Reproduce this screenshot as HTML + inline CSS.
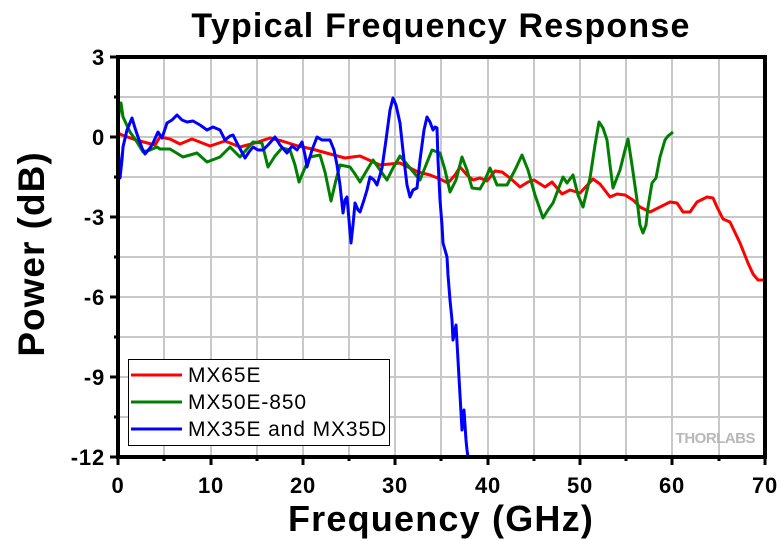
<!DOCTYPE html>
<html><head><meta charset="utf-8"><style>
html,body{margin:0;padding:0;background:#fff;}
svg{display:block;font-family:"Liberation Sans",Arial,sans-serif;}
</style></head><body>
<svg width="780" height="541" viewBox="0 0 780 541" xmlns="http://www.w3.org/2000/svg">
<rect width="780" height="541" fill="#fff"/>
<text x="441" y="37" text-anchor="middle" font-size="34" font-weight="bold" letter-spacing="1.2">Typical Frequency Response</text>
<g stroke="#c8c8c8" stroke-width="2">
<line x1="164" y1="57" x2="164" y2="457"/><line x1="211" y1="57" x2="211" y2="457"/><line x1="257" y1="57" x2="257" y2="457"/><line x1="303" y1="57" x2="303" y2="457"/><line x1="349" y1="57" x2="349" y2="457"/><line x1="395" y1="57" x2="395" y2="457"/><line x1="441" y1="57" x2="441" y2="457"/><line x1="488" y1="57" x2="488" y2="457"/><line x1="534" y1="57" x2="534" y2="457"/><line x1="580" y1="57" x2="580" y2="457"/><line x1="626" y1="57" x2="626" y2="457"/><line x1="672" y1="57" x2="672" y2="457"/><line x1="719" y1="57" x2="719" y2="457"/>
<line x1="118" y1="97" x2="765" y2="97"/><line x1="118" y1="137" x2="765" y2="137"/><line x1="118" y1="177" x2="765" y2="177"/><line x1="118" y1="217" x2="765" y2="217"/><line x1="118" y1="257" x2="765" y2="257"/><line x1="118" y1="297" x2="765" y2="297"/><line x1="118" y1="337" x2="765" y2="337"/><line x1="118" y1="377" x2="765" y2="377"/><line x1="118" y1="417" x2="765" y2="417"/>
</g>
<g fill="none" stroke-width="3" stroke-linejoin="round">
<polyline stroke="#ff0000" points="118,133 122,135 136,140 155,145 160,137 170,139 180,144 192,139 210,146 225,141 240,147 255,143 270,138 282,141 298,146 312,149 330,154 345,158 360,156 380,165 400,163 418,172 430,175 440,179 448,183 455,175 460,167 467,175 473,180 480,178 487,181 495,171 502,172 510,178 520,187 528,182 534,180 545,187 552,182 562,194 570,190 580,193 593,179 600,184 610,197 617,194 625,195 633,200 640,207 650,212 658,208 670,202 677,203 683,212 690,212 697,202 707,197 713,198 717,207 723,219 730,222 740,243 748,263 753,274 758,280 765,280"/>
<polyline stroke="#007f00" points="118,123 120,104 121,103 123,117 130,132 137,142 143,152 150,150 157,147 160,149 170,149 183,157 197,153 207,162 220,157 230,147 240,157 253,142 262,143 268,167 275,156 282,148 290,150 295,165 299,182 304,170 310,157 320,155 325,172 331,201 336,180 340,165 350,167 355,174 360,182 367,170 373,160 380,170 387,180 393,168 400,156 410,168 420,180 426,165 432,150 440,153 445,170 450,192 456,180 462,157 467,170 472,188 480,189 485,180 490,168 497,185 507,185 515,170 522,155 528,170 535,195 543,218 548,210 553,203 558,190 563,177 567,183 573,175 578,195 583,207 590,178 595,145 599,122 603,128 607,140 610,165 613,188 620,170 625,150 628,139 632,165 637,200 640,225 643,233 646,225 648,207 652,183 656,178 660,157 665,140 668,136 673,132"/>
<polyline stroke="#0000ff" points="118,143 119,160 120,178 122,160 123,147 127,130 132,118 135,128 138,137 142,148 145,154 150,148 153,143 158,132 162,138 167,123 172,120 177,115 182,120 187,122 193,121 200,125 207,130 213,127 220,130 225,140 230,136 233,135 238,145 245,158 249,152 253,147 258,150 263,150 268,145 275,137 280,145 287,153 292,146 297,150 302,142 305,155 307,167 312,150 317,137 322,140 330,140 334,150 337,165 340,185 343,213 345,200 347,197 349,220 351,243 353,225 355,203 358,210 360,212 364,200 367,190 370,177 374,180 377,185 380,175 382,168 386,140 390,110 393,98 396,105 400,123 404,160 407,185 410,197 413,190 417,188 420,160 424,130 427,117 430,122 433,130 435,127 437,128 438,160 440,200 442,225 443,243 445,250 447,257 448,275 450,300 452,320 453,340 455,330 456,325 458,360 460,395 462,430 463,415 464,410 466,440 467,450 468,457"/>
</g>
<g stroke="#000" stroke-width="4" fill="none">
<line x1="118" y1="57" x2="767" y2="57"/><line x1="765" y1="55" x2="765" y2="459"/>
<line x1="118" y1="55" x2="118" y2="459"/><line x1="116" y1="457" x2="767" y2="457"/>
</g>
<g stroke="#000" stroke-width="3">
<line x1="110" y1="57" x2="118" y2="57"/><line x1="110" y1="137" x2="118" y2="137"/><line x1="110" y1="217" x2="118" y2="217"/><line x1="110" y1="297" x2="118" y2="297"/><line x1="110" y1="377" x2="118" y2="377"/><line x1="110" y1="457" x2="118" y2="457"/>
<line x1="114" y1="97" x2="118" y2="97"/><line x1="114" y1="177" x2="118" y2="177"/><line x1="114" y1="257" x2="118" y2="257"/><line x1="114" y1="337" x2="118" y2="337"/><line x1="114" y1="417" x2="118" y2="417"/>
<line x1="118" y1="457" x2="118" y2="465"/><line x1="211" y1="457" x2="211" y2="465"/><line x1="303" y1="457" x2="303" y2="465"/><line x1="395" y1="457" x2="395" y2="465"/><line x1="488" y1="457" x2="488" y2="465"/><line x1="580" y1="457" x2="580" y2="465"/><line x1="672" y1="457" x2="672" y2="465"/><line x1="765" y1="457" x2="765" y2="465"/>
<line x1="164" y1="457" x2="164" y2="461"/><line x1="257" y1="457" x2="257" y2="461"/><line x1="349" y1="457" x2="349" y2="461"/><line x1="441" y1="457" x2="441" y2="461"/><line x1="534" y1="457" x2="534" y2="461"/><line x1="626" y1="457" x2="626" y2="461"/><line x1="719" y1="457" x2="719" y2="461"/>
</g>
<g font-size="22" font-weight="bold" text-anchor="end" letter-spacing="0.8">
<text x="105" y="65">3</text><text x="105" y="145">0</text><text x="105" y="225">-3</text><text x="105" y="305">-6</text><text x="105" y="385">-9</text><text x="105" y="465">-12</text>
</g>
<g font-size="22" font-weight="bold" text-anchor="middle" letter-spacing="0.8">
<text x="118" y="493">0</text><text x="211" y="493">10</text><text x="303" y="493">20</text><text x="395" y="493">30</text><text x="488" y="493">40</text><text x="580" y="493">50</text><text x="672" y="493">60</text><text x="765" y="493">70</text>
</g>
<text x="441" y="531" text-anchor="middle" font-size="36" font-weight="bold" letter-spacing="1.2">Frequency (GHz)</text>
<text transform="translate(44,254) rotate(-90)" text-anchor="middle" font-size="37" font-weight="bold" letter-spacing="1">Power (dB)</text>
<rect x="128.5" y="359.5" width="261" height="86" fill="#fff" stroke="#000" stroke-width="1"/>
<g stroke-width="3"><line x1="131" y1="375" x2="182" y2="375" stroke="#ff0000"/><line x1="131" y1="402" x2="182" y2="402" stroke="#007f00"/><line x1="131" y1="429" x2="182" y2="429" stroke="#0000ff"/></g>
<g font-size="21" letter-spacing="0.9"><text x="188" y="382">MX65E</text><text x="188" y="409">MX50E-850</text><text x="188" y="436">MX35E and MX35D</text></g>
<text x="755" y="443" text-anchor="end" font-size="15" font-weight="bold" fill="#b8b8b8" letter-spacing="-0.5">THORLABS</text>
</svg>
</body></html>
